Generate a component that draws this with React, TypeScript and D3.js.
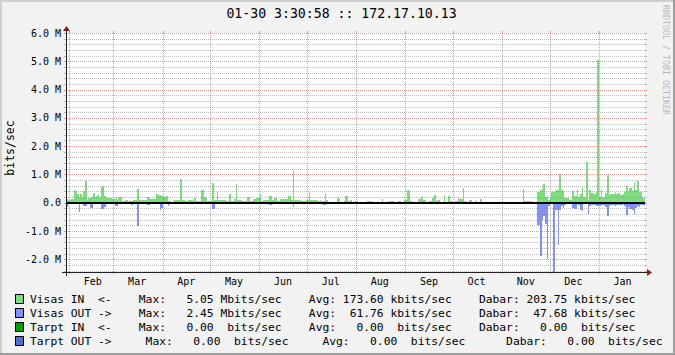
import React from 'react';
import * as d3 from 'd3';

// ---------- data (Mbit/s, one value per day, starting 01-30 of previous year) ----------
const visasIn: number[] = [
  0.12, 0.10, 0.11, 0.14, 0.12, 0.46, 0.40, 0.32, 0.20, 0.30,
  0.20, 0.40, 0.77, 0.08, 0.18, 0.18, 0.19, 0.34, 0.20, 0.25,
  0.30, 0.20, 0.55, 0.58, 0.22, 0.20, 0.17, 0.17, 0.17, 0.14,
  0.14, 0.17, 0.10, 0.19, 0.19, 0.06, 0.06, 0.10, 0.10, 0.05,
  0.05, 0.05, 0.08, 0.08, 0.08, 0.50, 0.08, 0.08, 0.10, 0.10,
  0.10, 0.20, 0.20, 0.13, 0.14, 0.14, 0.14, 0.32, 0.27, 0.27,
  0.22, 0.22, 0.19, 0.22, 0.05, 0.05, 0.04, 0.04, 0.08, 0.08,
  0.08, 0.08, 0.83, 0.10, 0.10, 0.06, 0.06, 0.08, 0.08, 0.08,
  0.06, 0.18, 0.06, 0.06, 0.06, 0.44, 0.44, 0.20, 0.18, 0.05,
  0.05, 0.05, 0.70, 0.10, 0.10, 0.37, 0.08, 0.08, 0.08, 0.08,
  0.08, 0.05, 0.05, 0.32, 0.06, 0.06, 0.12, 0.65, 0.10, 0.10,
  0.10, 0.05, 0.05, 0.05, 0.19, 0.19, 0.05, 0.05, 0.14, 0.14,
  0.18, 0.18, 0.30, 0.06, 0.08, 0.08, 0.08, 0.08, 0.22, 0.22,
  0.10, 0.18, 0.18, 0.06, 0.06, 0.12, 0.12, 0.12, 0.12, 0.12,
  0.22, 0.22, 0.08, 1.12, 0.08, 0.08, 0.08, 0.08, 0.06, 0.06,
  0.06, 0.09, 0.09, 0.37, 0.08, 0.08, 0.08, 0.08, 0.08, 0.06,
  0.10, 0.05, 0.05, 0.34, 0.08, 0, 0, 0, 0, 0,
  0, 0.15, 0.12, 0, 0, 0.06, 0.22, 0.22, 0.06, 0.08,
  0, 0, 0.05, 0.05, 0, 0, 0, 0, 0, 0,
  0.06, 0.06, 0.06, 0.04, 0, 0, 0, 0, 0, 0.13,
  0, 0, 0, 0.05, 0, 0.05, 0.05, 0, 0, 0.05,
  0.05, 0, 0, 0.08, 0.08, 0.46, 0.40, 0.05, 0.03, 0.02,
  0.02, 0.02, 0.12, 0.12, 0.20, 0.08, 0.10, 0, 0, 0.05,
  0.05, 0.15, 0.26, 0.05, 0.08, 0.08, 0, 0, 0.26, 0.04,
  0.04, 0.22, 0.05, 0.05, 0, 0.05, 0.05, 0.18, 0.13, 0.13,
  0.51, 0.05, 0, 0, 0.08, 0.08, 0, 0, 0.05, 0,
  0, 0.12, 0, 0, 0, 0.04, 0.04, 0, 0, 0,
  0, 0, 0, 0, 0, 0, 0, 0, 0, 0,
  0, 0, 0, 0, 0, 0, 0, 0, 0.47, 0.05,
  0.05, 0.05, 0.05, 0.05, 0, 0, 0, 0.37, 0.37, 0.46,
  0.47, 0.65, 0.20, 0.25, 0.08, 0.20, 0.37, 0.37, 0.41, 0.44,
  0.44, 1.00, 0.44, 0.41, 0.18, 0.16, 0.16, 0.10, 0.08, 0.41,
  0.24, 0.24, 0.50, 0.20, 0.32, 0.56, 0.20, 0.20, 1.43, 0.10,
  0.44, 0.34, 0.34, 0.30, 0.37, 5.05, 0.20, 0.46, 0.20, 0.20,
  0.34, 0.98, 0.27, 0.32, 0.32, 0.32, 0.37, 0.30, 0.34, 0.27,
  0.27, 0.30, 0.37, 0.60, 0.37, 0.53, 0.53, 0.41, 0.74, 0.46,
  0.77, 0.37, 0.37, 0.20, 0.18,
];

const visasOut: number[] = [
  0.15, 0.04, 0.04, 0.04, 0.04, 0.04, 0.04, 0.04, 0.33, 0.05,
  0.05, 0.10, 0.10, 0.03, 0.03, 0.20, 0.20, 0.04, 0.04, 0.04,
  0.04, 0.04, 0.22, 0.22, 0.15, 0.04, 0.04, 0.04, 0.04, 0.04,
  0.02, 0.12, 0.12, 0.02, 0.02, 0.02, 0.02, 0.02, 0.02, 0.02,
  0.02, 0.07, 0.02, 0.02, 0.02, 0.84, 0.03, 0.03, 0.03, 0.03,
  0.02, 0.08, 0.08, 0.03, 0.03, 0.03, 0.03, 0.03, 0.03, 0.27,
  0.18, 0.05, 0.05, 0.05, 0.13, 0.02, 0.02, 0.02, 0.02, 0.02,
  0.02, 0.02, 0.02, 0.01, 0.01, 0.01, 0.01, 0.01, 0.01, 0.01,
  0.01, 0.01, 0.05, 0.05, 0.01, 0.01, 0.01, 0.01, 0.01, 0.01,
  0.01, 0.01, 0.24, 0.24, 0.03, 0.03, 0.03, 0.03, 0.03, 0.03,
  0.03, 0.05, 0.05, 0.02, 0.02, 0.03, 0.03, 0.03, 0.03, 0.01,
  0.01, 0.01, 0.01, 0.01, 0.01, 0.01, 0.01, 0.01, 0.01, 0.01,
  0.01, 0.03, 0.03, 0.03, 0.01, 0.01, 0.01, 0.01, 0.08, 0.08,
  0.01, 0.01, 0.01, 0.01, 0.05, 0.05, 0.05, 0.05, 0.05, 0.05,
  0.05, 0.02, 0.02, 0.15, 0.02, 0.02, 0.02, 0.02, 0.05, 0.05,
  0.05, 0.05, 0.04, 0.04, 0.04, 0.04, 0.04, 0.04, 0.04, 0.01,
  0.01, 0.01, 0.09, 0.09, 0.03, 0, 0, 0, 0, 0,
  0, 0, 0, 0, 0, 0, 0, 0, 0, 0,
  0, 0.03, 0, 0, 0, 0, 0, 0, 0, 0,
  0, 0, 0, 0, 0, 0, 0, 0, 0, 0,
  0, 0, 0, 0, 0, 0, 0, 0, 0, 0,
  0, 0, 0, 0, 0, 0, 0, 0, 0, 0,
  0, 0, 0, 0, 0, 0, 0, 0, 0, 0,
  0, 0, 0, 0, 0, 0, 0, 0, 0, 0,
  0, 0, 0, 0, 0, 0, 0, 0, 0, 0,
  0, 0, 0, 0, 0, 0, 0, 0, 0, 0,
  0, 0, 0, 0, 0, 0, 0, 0, 0, 0,
  0, 0, 0, 0, 0, 0, 0, 0, 0, 0,
  0, 0, 0, 0, 0, 0, 0, 0, 0.03, 0.01,
  0, 0, 0, 0, 0, 0, 0, 0.80, 0.80, 1.87,
  0.63, 0.48, 0.74, 1.99, 0.13, 0.04, 0.04, 2.45, 0.27, 0.27,
  1.51, 0.27, 0.10, 0.18, 0.07, 0.04, 0.04, 0.04, 0.04, 0.18,
  0.21, 0.21, 0.06, 0.09, 0.27, 0.30, 0.06, 0.06, 0.06, 0.41,
  0.10, 0.09, 0.09, 0.07, 0.12, 0.12, 0.12, 0.07, 0.09, 0.09,
  0.15, 0.47, 0.12, 0.09, 0.07, 0.07, 0.12, 0.07, 0.09, 0.07,
  0.07, 0.06, 0.13, 0.45, 0.15, 0.21, 0.21, 0.25, 0.41, 0.18,
  0.11, 0.15, 0.09, 0.07, 0.07,
];

const yMajorTicks = [-2, -1, 0, 1, 2, 3, 4, 5, 6];
const yTickLabels = ['-2.0 M', '-1.0 M', '0.0', '1.0 M', '2.0 M', '3.0 M', '4.0 M', '5.0 M', '6.0 M'];
const monthLabels = ['Feb', 'Mar', 'Apr', 'May', 'Jun', 'Jul', 'Aug', 'Sep', 'Oct', 'Nov', 'Dec', 'Jan'];

const legendNames = ['Visas IN  <-', 'Visas OUT ->', 'Tarpt IN  <-', 'Tarpt OUT ->'];
const legendMax = ['5.05', '2.45', '0.00', '0.00'];
const legendMaxUnit = ['Mbits/sec', 'Mbits/sec', ' bits/sec', ' bits/sec'];
const legendAvg = ['173.60', '61.76', '0.00', '0.00'];
const legendAvgUnit = ['kbits/sec', 'kbits/sec', ' bits/sec', ' bits/sec'];
const legendCur = ['203.75', '47.68', '0.00', '0.00'];
const legendCurUnit = ['kbits/sec', 'kbits/sec', ' bits/sec', ' bits/sec'];
const legendColors = ['#7EDC7E', '#8090FF', '#00A000', '#5070D0'];

const title = '01-30 3:30:58 :: 172.17.10.13';
const watermark = 'RRDTOOL / TOBI OETIKER';

// ---------- layout ----------
const W = 675;
const H = 355;
const X0 = 66;
const X1 = 645;
const Y0 = 272;
const Y1 = 33;
const FONT = '"DejaVu Sans Mono", "Liberation Mono", monospace';

const START = new Date(Date.UTC(2009, 0, 30, 3, 30, 58));
const END = new Date(Date.UTC(2010, 0, 30, 3, 30, 58));

const COLORS = {
  back: '#F2F2F2',
  canvas: '#FFFFFF',
  shadeA: '#CFCFCF',
  shadeB: '#9E9E9E',
  grid: 'rgba(143,143,143,0.6)',
  mgrid: 'rgba(222,79,79,0.6)',
  axis: '#1F1F1F',
  arrow: '#801F1F',
};

type P = { t: Date; v: number };

export default function App() {
  const x = d3.scaleTime().domain([START, END]).range([X0, X1]);
  const y = d3.scaleLinear().domain([-2.45, 6]).range([Y0, Y1]);

  const toPoints = (arr: number[], sign: number): P[] => {
    const pts = arr.map((v, i) => ({ t: d3.utcDay.offset(START, i), v: sign * v }));
    pts.push({ t: END, v: sign * arr[arr.length - 1] });
    return pts;
  };

  const area = d3
    .area<P>()
    .x((p) => x(p.t))
    .y0(y(0))
    .y1((p) => y(p.v))
    .curve(d3.curveStepAfter);

  const inPath = area(toPoints(visasIn, 1)) || '';
  const outPath = area(toPoints(visasOut, -1)) || '';

  const minorVals = d3
    .range(-24, 61, 2)
    .map((k) => k / 10)
    .filter((v) => Math.abs(v - Math.round(v)) > 1e-6);

  const months = d3.utcMonth.range(START, END);
  const snap = (v: number) => Math.round(v) + 0.5;

  const legendRows = legendNames.map((name, i) => {
    const pad = i === 3 ? 17 : 16;
    const gapA = i === 3 ? 5 : 4;
    const gapD = i === 3 ? 6 : 4;
    return (
      name.padEnd(pad) +
      'Max:' + legendMax[i].padStart(7) + ' ' + legendMaxUnit[i] +
      ' '.repeat(gapA) +
      'Avg:' + legendAvg[i].padStart(7) + ' ' + legendAvgUnit[i] +
      ' '.repeat(gapD) +
      'Dabar:' + legendCur[i].padStart(7) + ' ' + legendCurUnit[i]
    );
  });

  const zeroY = Math.round(y(0));

  return (
    <svg
      width={W}
      height={H}
      viewBox={`0 0 ${W} ${H}`}
      style={{ position: 'absolute', left: 0, top: 0, display: 'block' }}
      fontFamily={FONT}
    >
      {/* background & border */}
      <rect x={0} y={0} width={W} height={H} fill={COLORS.back} />
      <path d={`M0,0H${W}V2H2V${H}H0Z`} fill={COLORS.shadeA} />
      <path d={`M${W},${H}H0V${H - 2}H${W - 2}V0H${W}Z`} fill={COLORS.shadeB} />

      {/* canvas */}
      <rect x={X0} y={Y1} width={X1 - X0} height={Y0 - Y1} fill={COLORS.canvas} />

      {/* data */}
      <path d={inPath} fill={legendColors[0]} shapeRendering="crispEdges" />
      <path d={outPath} fill={legendColors[1]} shapeRendering="crispEdges" />

      {/* minor horizontal grid */}
      {minorVals.map((v) => {
        const yy = snap(y(v));
        return (
          <g key={`mi${v}`}>
            <line x1={X0 - 2} x2={X0} y1={yy} y2={yy} stroke={COLORS.grid} />
            <line x1={X1} x2={X1 + 2} y1={yy} y2={yy} stroke={COLORS.grid} />
            <line x1={X0} x2={X1} y1={yy} y2={yy} stroke={COLORS.grid} strokeDasharray="1,1" />
          </g>
        );
      })}

      {/* major horizontal grid */}
      {yMajorTicks.map((v) => {
        const yy = snap(y(v));
        return (
          <g key={`ma${v}`}>
            <line x1={X0 - 2} x2={X0} y1={yy} y2={yy} stroke={COLORS.mgrid} />
            <line x1={X1} x2={X1 + 2} y1={yy} y2={yy} stroke={COLORS.mgrid} />
            <line x1={X0} x2={X1} y1={yy} y2={yy} stroke={COLORS.mgrid} strokeDasharray="1,1" />
          </g>
        );
      })}

      {/* vertical month grid */}
      {months.map((m) => {
        const xx = snap(x(m));
        return (
          <g key={`vm${m.getTime()}`}>
            <line x1={xx} x2={xx} y1={Y0} y2={Y0 + 2} stroke={COLORS.mgrid} />
            <line x1={xx} x2={xx} y1={Y1 - 2} y2={Y1} stroke={COLORS.mgrid} />
            <line x1={xx} x2={xx} y1={Y1} y2={Y0} stroke={COLORS.mgrid} strokeDasharray="1,1" />
          </g>
        );
      })}

      {/* zero line */}
      <line x1={X0} x2={X1} y1={zeroY} y2={zeroY} stroke="#000000" strokeWidth={2} />

      {/* axes */}
      <line x1={X0 - 4} x2={X1 + 4} y1={Y0 + 0.5} y2={Y0 + 0.5} stroke={COLORS.axis} />
      <line x1={X0 + 0.5} x2={X0 + 0.5} y1={Y0 + 4} y2={Y1 - 4} stroke={COLORS.axis} />
      <path
        d={`M${X1 + 2},${Y0 - 3}L${X1 + 7},${Y0 + 0.5}L${X1 + 2},${Y0 + 4}Z`}
        fill={COLORS.arrow}
      />
      <path
        d={`M${X0 - 3},${Y1 - 2}L${X0 + 0.5},${Y1 - 7}L${X0 + 4},${Y1 - 2}Z`}
        fill={COLORS.arrow}
      />

      {/* y labels */}
      {yMajorTicks.map((v, i) => (
        <text
          key={`yl${v}`}
          x={61}
          y={y(v)}
          dy="0.36em"
          textAnchor="end"
          fontSize={10}
          fill="#000"
          style={{ whiteSpace: 'pre' }}
        >
          {yTickLabels[i]}
        </text>
      ))}

      {/* x labels (centered mid-month) */}
      {months.map((m, i) => (
        <text
          key={`xl${m.getTime()}`}
          x={x(d3.utcDay.offset(m, 15))}
          y={285}
          textAnchor="middle"
          fontSize={10}
          fill="#000"
        >
          {monthLabels[i]}
        </text>
      ))}

      {/* y unit */}
      <text
        transform="translate(14,148) rotate(-90)"
        textAnchor="middle"
        fontSize={11.5}
        fill="#000"
      >
        bits/sec
      </text>

      {/* title */}
      <text x={341.5} y={18} textAnchor="middle" fontSize={13.2} fill="#000" style={{ whiteSpace: 'pre' }}>
        {title}
      </text>

      {/* watermark */}
      <text
        transform="translate(663,5) rotate(90)"
        fontSize={8.3}
        fill="#B8B8B8"
        style={{ whiteSpace: 'pre' }}
      >
        {watermark}
      </text>

      {/* legend */}
      {legendRows.map((row, i) => {
        const cy = 299 + i * 14;
        return (
          <g key={`lg${i}`}>
            <rect
              x={15.5}
              y={cy - 4.5}
              width={8}
              height={9}
              fill={legendColors[i]}
              stroke="#000"
              strokeWidth={1}
            />
            <text
              x={30}
              y={cy + 4}
              fontSize={11.3}
              fill="#000"
              xmlSpace="preserve"
              style={{ whiteSpace: 'pre' }}
            >
              {row}
            </text>
          </g>
        );
      })}
    </svg>
  );
}
